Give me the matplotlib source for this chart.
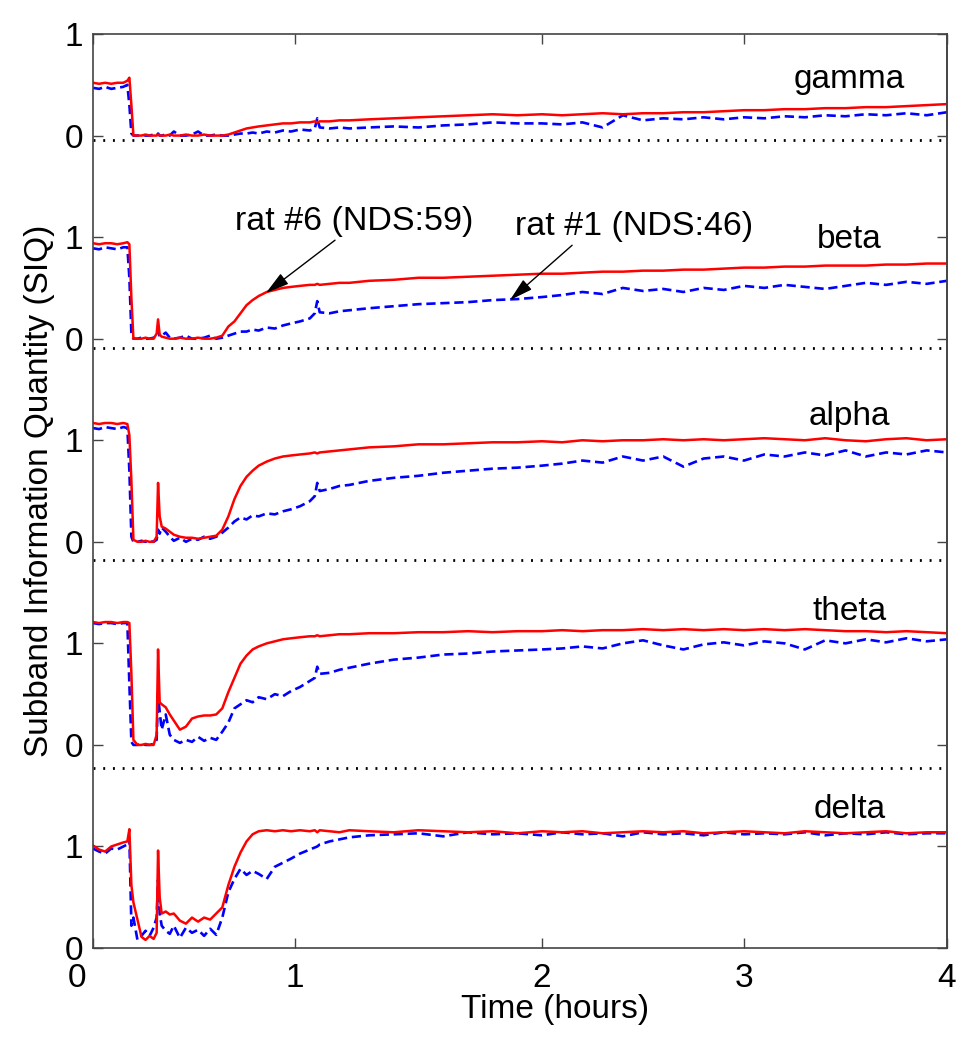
import numpy as np
import matplotlib
matplotlib.use("Agg")
import matplotlib.pyplot as plt
from matplotlib.transforms import ScaledTranslation

plt.rcParams["font.family"] = ["Liberation Sans", "DejaVu Sans"]

# time base shared by every trace (hours)
T_HOURS = [
    0.00, 0.03, 0.06, 0.09, 0.12, 0.15, 0.17, 0.18, 0.19, 0.20, 0.22, 0.24, 0.26, 0.28, 0.30, 0.315,
    0.322, 0.33, 0.34, 0.36, 0.38, 0.40, 0.43, 0.46, 0.49, 0.52, 0.55, 0.58, 0.61, 0.64, 0.67, 0.70,
    0.73, 0.76, 0.79, 0.82, 0.86, 0.90, 0.94, 0.98, 1.02, 1.06, 1.08, 1.09, 1.10, 1.14, 1.18, 1.22,
    1.3, 1.4, 1.5, 1.6, 1.7, 1.8, 1.9, 2.0, 2.1, 2.2, 2.3, 2.4, 2.5, 2.6,
    2.7, 2.8, 2.9, 3.0, 3.1, 3.2, 3.3, 3.4, 3.5, 3.6, 3.7, 3.8, 3.9, 4.0,
]

# rat #6 (NDS:59) -> red, rat #1 (NDS:46) -> blue dashed
GAMMA_RAT6 = [
    0.52, 0.51, 0.52, 0.51, 0.52, 0.52, 0.54, 0.57, 0.30, 0.00, 0.00, 0.00, 0.01, 0.00, 0.00, 0.00,
    0.01, 0.00, 0.00, 0.00, 0.01, 0.00, 0.00, 0.01, 0.00, 0.00, 0.01, 0.00, 0.00, 0.00, 0.01, 0.03,
    0.05, 0.07, 0.08, 0.09, 0.10, 0.11, 0.12, 0.12, 0.13, 0.13, 0.14, 0.13, 0.14, 0.14, 0.15, 0.15,
    0.16, 0.17, 0.18, 0.19, 0.20, 0.21, 0.20, 0.21, 0.20, 0.21, 0.22, 0.21, 0.22, 0.22,
    0.23, 0.23, 0.24, 0.25, 0.25, 0.26, 0.26, 0.27, 0.27, 0.28, 0.28, 0.29, 0.30, 0.31,
]
GAMMA_RAT1 = [
    0.47, 0.46, 0.48, 0.46, 0.47, 0.48, 0.50, 0.30, 0.02, 0.00, 0.00, 0.01, 0.00, 0.00, 0.01, 0.00,
    0.02, 0.00, 0.00, 0.01, 0.00, 0.04, 0.00, 0.00, 0.01, 0.04, 0.00, 0.00, 0.01, 0.00, 0.00, 0.01,
    0.02, 0.02, 0.03, 0.02, 0.04, 0.03, 0.05, 0.04, 0.06, 0.05, 0.07, 0.17, 0.08, 0.07, 0.08, 0.07,
    0.08, 0.09, 0.08, 0.10, 0.11, 0.13, 0.12, 0.12, 0.11, 0.13, 0.08, 0.20, 0.15, 0.17,
    0.16, 0.18, 0.16, 0.18, 0.17, 0.19, 0.18, 0.20, 0.19, 0.21, 0.20, 0.22, 0.20, 0.23,
]
BETA_RAT6 = [
    0.94, 0.93, 0.94, 0.94, 0.93, 0.94, 0.95, 0.93, 0.40, 0.00, 0.00, 0.00, 0.01, 0.00, 0.00, 0.05,
    0.19, 0.04, 0.02, 0.01, 0.00, 0.00, 0.01, 0.00, 0.00, 0.01, 0.00, 0.00, 0.01, 0.03, 0.12, 0.17,
    0.25, 0.33, 0.38, 0.42, 0.46, 0.48, 0.50, 0.51, 0.52, 0.53, 0.53, 0.54, 0.53, 0.54, 0.55, 0.55,
    0.57, 0.58, 0.60, 0.60, 0.61, 0.62, 0.63, 0.64, 0.64, 0.65, 0.66, 0.66, 0.67, 0.67,
    0.68, 0.68, 0.69, 0.70, 0.70, 0.71, 0.71, 0.72, 0.72, 0.72, 0.73, 0.73, 0.74, 0.74,
]
BETA_RAT1 = [
    0.89, 0.88, 0.90, 0.89, 0.88, 0.90, 0.90, 0.60, 0.05, 0.00, 0.00, 0.01, 0.00, 0.00, 0.01, 0.02,
    0.08, 0.02, 0.03, 0.06, 0.01, 0.00, 0.01, 0.03, 0.00, 0.00, 0.01, 0.03, 0.00, 0.01, 0.03, 0.05,
    0.07, 0.07, 0.09, 0.08, 0.11, 0.10, 0.13, 0.15, 0.17, 0.20, 0.25, 0.37, 0.26, 0.25, 0.27, 0.28,
    0.30, 0.32, 0.34, 0.35, 0.36, 0.38, 0.39, 0.41, 0.43, 0.46, 0.44, 0.50, 0.47, 0.49,
    0.46, 0.50, 0.48, 0.52, 0.50, 0.53, 0.51, 0.49, 0.52, 0.55, 0.53, 0.56, 0.54, 0.57,
]
ALPHA_RAT6 = [
    1.17, 1.16, 1.17, 1.17, 1.16, 1.17, 1.16, 1.05, 0.60, 0.02, 0.00, 0.00, 0.01, 0.00, 0.00, 0.05,
    0.58, 0.25, 0.15, 0.13, 0.10, 0.07, 0.05, 0.04, 0.04, 0.03, 0.04, 0.05, 0.06, 0.12, 0.25, 0.42,
    0.55, 0.64, 0.70, 0.75, 0.79, 0.82, 0.84, 0.85, 0.86, 0.87, 0.88, 0.87, 0.88, 0.89, 0.90, 0.91,
    0.93, 0.94, 0.96, 0.96, 0.97, 0.98, 0.98, 0.99, 0.98, 1.00, 0.99, 1.00, 1.00, 1.01,
    1.00, 1.01, 1.00, 1.01, 1.02, 1.01, 1.00, 1.02, 1.00, 0.99, 1.01, 1.02, 1.00, 1.01,
]
ALPHA_RAT1 = [
    1.12, 1.11, 1.13, 1.12, 1.11, 1.13, 1.12, 0.70, 0.05, 0.00, 0.00, 0.01, 0.00, 0.01, 0.00, 0.02,
    0.12, 0.08, 0.14, 0.10, 0.05, 0.01, 0.04, 0.00, 0.03, 0.02, 0.05, 0.03, 0.05, 0.09, 0.14, 0.20,
    0.24, 0.22, 0.26, 0.25, 0.28, 0.27, 0.30, 0.32, 0.35, 0.40, 0.45, 0.58, 0.50, 0.52, 0.55, 0.56,
    0.60, 0.63, 0.65, 0.68, 0.70, 0.72, 0.73, 0.75, 0.77, 0.80, 0.78, 0.84, 0.80, 0.84,
    0.74, 0.82, 0.84, 0.80, 0.86, 0.84, 0.88, 0.85, 0.90, 0.84, 0.88, 0.86, 0.90, 0.88,
]
THETA_RAT6 = [
    1.21, 1.20, 1.21, 1.21, 1.20, 1.21, 1.21, 1.20, 0.70, 0.05, 0.00, 0.00, 0.01, 0.00, 0.00, 0.10,
    0.94, 0.42, 0.40, 0.37, 0.30, 0.24, 0.15, 0.18, 0.26, 0.28, 0.29, 0.29, 0.30, 0.36, 0.52, 0.66,
    0.80, 0.88, 0.94, 0.97, 1.00, 1.02, 1.04, 1.05, 1.06, 1.07, 1.07, 1.08, 1.07, 1.08, 1.09, 1.09,
    1.10, 1.10, 1.11, 1.11, 1.12, 1.11, 1.12, 1.12, 1.13, 1.12, 1.13, 1.13, 1.14, 1.13,
    1.14, 1.13, 1.14, 1.13, 1.14, 1.13, 1.14, 1.13, 1.12, 1.12, 1.11, 1.12, 1.11, 1.10,
]
THETA_RAT1 = [
    1.20, 1.19, 1.20, 1.20, 1.19, 1.20, 1.20, 0.60, 0.03, 0.00, 0.00, 0.01, 0.00, 0.00, 0.01, 0.05,
    0.50, 0.33, 0.15, 0.30, 0.10, 0.05, 0.02, 0.05, 0.03, 0.08, 0.04, 0.07, 0.05, 0.13, 0.22, 0.36,
    0.40, 0.44, 0.42, 0.47, 0.45, 0.50, 0.48, 0.53, 0.57, 0.63, 0.66, 0.77, 0.70, 0.71, 0.74, 0.76,
    0.80, 0.84, 0.86, 0.89, 0.90, 0.92, 0.93, 0.94, 0.95, 0.97, 0.95, 1.00, 1.03, 0.98,
    0.94, 0.99, 1.01, 0.98, 1.02, 1.00, 0.94, 1.03, 1.00, 1.04, 1.01, 1.05, 1.02, 1.04,
]
DELTA_RAT6 = [
    1.01, 0.97, 0.95, 1.00, 1.02, 1.04, 1.05, 1.17, 0.62, 0.45, 0.28, 0.11, 0.08, 0.12, 0.09, 0.15,
    0.96, 0.50, 0.34, 0.36, 0.33, 0.34, 0.27, 0.24, 0.30, 0.26, 0.30, 0.28, 0.34, 0.40, 0.62, 0.80,
    0.94, 1.05, 1.12, 1.15, 1.16, 1.15, 1.16, 1.15, 1.16, 1.15, 1.16, 1.14, 1.16, 1.15, 1.14, 1.16,
    1.15, 1.14, 1.16, 1.15, 1.14, 1.15, 1.13, 1.15, 1.14, 1.15, 1.13, 1.14, 1.15, 1.14,
    1.15, 1.13, 1.14, 1.15, 1.14, 1.13, 1.15, 1.14, 1.13, 1.14, 1.15, 1.13, 1.14, 1.14,
]
DELTA_RAT1 = [
    0.98, 0.95, 0.93, 0.98, 0.97, 1.00, 1.02, 1.08, 0.22, 0.30, 0.08, 0.12, 0.17, 0.12, 0.20, 0.30,
    0.67, 0.34, 0.22, 0.17, 0.14, 0.22, 0.10, 0.20, 0.15, 0.18, 0.12, 0.19, 0.13, 0.30, 0.55, 0.68,
    0.78, 0.72, 0.76, 0.73, 0.68, 0.80, 0.84, 0.88, 0.93, 0.97, 0.99, 1.00, 1.02, 1.05, 1.07, 1.09,
    1.11, 1.12, 1.13, 1.10, 1.14, 1.12, 1.13, 1.11, 1.14, 1.12, 1.13, 1.10, 1.14, 1.12,
    1.13, 1.11, 1.14, 1.12, 1.13, 1.12, 1.14, 1.11, 1.13, 1.12, 1.14, 1.12, 1.13, 1.13,
]

BAND_NAMES = ["gamma", "beta", "alpha", "theta", "delta"]
RAT6_TRACES = [GAMMA_RAT6, BETA_RAT6, ALPHA_RAT6, THETA_RAT6, DELTA_RAT6]
RAT1_TRACES = [GAMMA_RAT1, BETA_RAT1, ALPHA_RAT1, THETA_RAT1, DELTA_RAT1]
BAND_OFFSETS = [8, 6, 4, 2, 0]
SEPARATOR_LEVELS = [7.96, 5.91, 3.82, 1.77]
LABEL_BASELINES = [8.47, 6.89, 5.15, 3.23, 1.28]

# the original time axis has uneven spacing between its hour ticks
HOUR_KNOTS = [-10, 0, 1, 2, 3, 4, 14]
AXIS_KNOTS = [-2020, 0, 202, 449, 651, 854, 2884]


def hours_to_axis(h):
    return np.interp(h, HOUR_KNOTS, AXIS_KNOTS)


def axis_to_hours(a):
    return np.interp(a, AXIS_KNOTS, HOUR_KNOTS)


fig = plt.figure(figsize=(9.76, 10.5), dpi=100)
ax = fig.add_axes([0.0953, 0.0971, 0.875, 0.8705])
ax.set_xscale("function", functions=(hours_to_axis, axis_to_hours))

t = np.array(T_HOURS)
for rat6, rat1, off in zip(RAT6_TRACES, RAT1_TRACES, BAND_OFFSETS):
    ax.plot(t, np.array(rat1) + off, color="#0000ff", lw=1.9, ls=(0, (3.5, 1.8)))
    ax.plot(t, np.array(rat6) + off, color="#ff0000", lw=1.8)

for level in SEPARATOR_LEVELS:
    ax.axhline(level, color="k", lw=2.0, ls=(0, (0.7, 2.8)))

for name, base in zip(BAND_NAMES, LABEL_BASELINES):
    ax.text(3.52, base, name, ha="center", va="baseline", fontsize=24)

ax.text(0.703, 7.07, "rat #6 (NDS:59)", fontsize=24.5, va="baseline")
ax.text(1.89, 7.02, "rat #1 (NDS:46)", fontsize=24.5, va="baseline")
arrow = dict(arrowstyle="-|>,head_length=0.8,head_width=0.22", color="k",
             lw=1.0, shrinkA=0, shrinkB=0, mutation_scale=18)
ax.annotate("", xy=(0.856, 6.45), xytext=(1.162, 6.97), arrowprops=arrow)
ax.annotate("", xy=(1.87, 6.38), xytext=(2.149, 6.92), arrowprops=arrow)

ax.set_xlim(0, 4)
ax.set_ylim(0, 9)
ax.set_xticks([0, 1, 2, 3, 4])
ax.set_xticklabels(["0", "1", "2", "3", "4"])
ax.set_yticks(range(10))
ax.set_yticklabels(["0", "1"] * 5)
ax.tick_params(axis="both", direction="in", length=7, width=1, color="#444444",
               labelsize=24, top=True)
ax.tick_params(axis="y", pad=7)
ax.tick_params(axis="x", pad=11)

right = ax.secondary_yaxis("right")
right.set_yticks([0, 1, 2, 4, 6, 7, 8, 9])
right.tick_params(direction="in", length=7, width=1, color="#444444",
                  labelright=False)

for side in ["left", "right", "top", "bottom"]:
    ax.spines[side].set_color("#444444")
    ax.spines[side].set_linewidth(1.2)
right.spines["right"].set_color("#444444")
right.spines["right"].set_linewidth(1.2)

# the "0" under the corner sits a little left of the axis origin
zero_label = ax.xaxis.get_major_ticks()[0].label1
zero_label.set_transform(zero_label.get_transform()
                         + ScaledTranslation(-0.16, 0, fig.dpi_scale_trans))

ax.set_xlabel("Time (hours)", fontsize=24)
ax.xaxis.set_label_coords(0.541, -0.050)
ax.set_ylabel("Subband Information Quantity (SIQ)", fontsize=24)
ax.yaxis.set_label_coords(-0.045, 0.5)

fig.savefig("out.png", dpi=100)
